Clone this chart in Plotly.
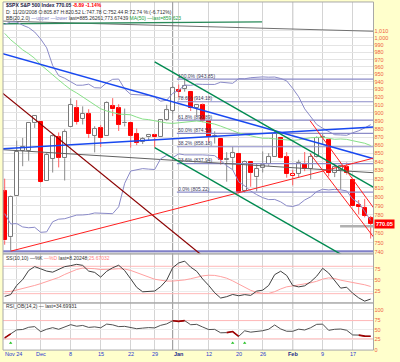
import plotly.graph_objects as go

# ---------------- data ----------------
dates = ["2008-11-20","2008-11-21","2008-11-24","2008-11-25","2008-11-26","2008-11-28",
         "2008-12-01","2008-12-02","2008-12-03","2008-12-04","2008-12-05","2008-12-08",
         "2008-12-09","2008-12-10","2008-12-11","2008-12-12","2008-12-15","2008-12-16",
         "2008-12-17","2008-12-18","2008-12-19","2008-12-22","2008-12-23","2008-12-24",
         "2008-12-26","2008-12-29","2008-12-30","2008-12-31","2009-01-02","2009-01-05",
         "2009-01-06","2009-01-07","2009-01-08","2009-01-09","2009-01-12","2009-01-13",
         "2009-01-14","2009-01-15","2009-01-16","2009-01-20","2009-01-21","2009-01-22",
         "2009-01-23","2009-01-26","2009-01-27","2009-01-28","2009-01-29","2009-01-30",
         "2009-02-02","2009-02-03","2009-02-04","2009-02-05","2009-02-06","2009-02-09",
         "2009-02-10","2009-02-11","2009-02-12","2009-02-13","2009-02-17","2009-02-18",
         "2009-02-19","2009-02-20"]
opens = [805.87,755.84,801.20,853.40,852.90,886.89,888.61,817.94,843.60,869.75,844.43,882.71,
         906.48,892.17,898.35,871.79,881.07,871.53,908.16,905.98,886.96,887.20,874.31,863.87,
         869.51,872.37,870.58,890.59,902.99,929.17,931.17,927.45,905.73,909.91,890.40,869.79,
         867.28,841.99,844.45,849.64,806.77,839.74,822.16,832.50,837.30,845.73,868.89,845.69,
         823.09,825.69,837.77,831.75,846.09,868.24,866.87,827.41,830.95,833.95,818.61,791.06,
         787.91,775.87]
highs = [820.52,801.20,865.60,868.94,887.68,896.25,888.61,850.54,873.12,875.60,879.42,918.57,
         916.26,908.27,904.63,883.24,884.63,914.66,918.85,911.02,905.47,887.37,880.44,869.79,
         873.74,873.70,891.12,910.32,934.73,936.63,943.85,927.45,910.00,911.93,890.40,877.02,
         867.28,851.59,858.13,849.64,841.72,839.74,838.61,852.53,850.45,877.86,868.89,851.66,
         830.78,842.60,851.85,850.55,870.75,875.01,868.05,838.22,835.19,839.43,818.61,796.17,
         797.58,778.69]
lows = [747.78,741.02,801.20,834.99,841.37,881.21,815.69,817.94,827.60,833.60,818.41,882.71,
        885.38,885.45,868.73,851.35,857.72,871.53,895.94,877.44,883.02,857.09,860.10,861.44,
        866.52,857.07,870.58,889.67,899.35,919.53,927.28,902.37,896.81,888.31,864.32,862.02,
        836.93,817.04,830.66,804.47,804.30,811.29,806.07,827.69,835.40,845.73,844.15,821.67,
        812.87,821.98,829.18,819.91,845.42,861.65,822.99,822.30,808.06,825.21,789.17,780.43,
        777.03,754.25]
closes = [752.44,800.03,851.81,857.39,887.68,896.24,816.21,848.81,870.74,845.22,876.07,909.70,
          888.67,899.24,873.59,879.73,868.57,913.18,904.42,885.28,887.88,871.63,863.16,868.15,
          872.80,869.42,890.64,903.25,931.80,927.45,934.70,906.65,909.73,890.35,870.26,871.79,
          842.62,843.74,850.12,805.22,840.24,827.50,831.95,836.57,845.71,874.09,845.14,825.88,
          825.44,838.51,832.23,845.85,868.60,869.89,827.16,833.74,835.19,826.84,789.17,788.42,
          778.94,770.05]
prev_close_first = 806.58

bb_upper = [1019.2,1022.8,1022.7,1018.0,1014.6,1008.3,998.5,986.2,961.9,948.3,944.9,940.8,
            935.7,935.7,937.1,932.4,932.1,938.9,943.5,943.8,930.8,923.8,923.4,923.2,
            922.3,920.2,914.9,916.2,925.1,928.9,935.9,935.5,937.2,936.8,936.9,936.7,
            939.7,939.1,938.2,944.4,944.2,945.6,946.5,946.7,946.3,946.5,944.6,941.4,
            931.5,920.6,905.1,895.5,885.5,880.7,877.2,872.8,872.5,872.1,875.2,877.6,
            881.1,885.26]
bb_lower = [781.2,769.9,770.3,766.7,765.8,766.3,760.9,761.4,772.3,775.1,775.6,777.6,
            779.6,779.7,780.3,781.9,781.7,781.2,781.1,788.7,815.2,829.4,831.0,832.2,
            831.6,831.1,843.8,847.9,845.1,849.6,848.4,848.5,848.9,848.4,848.0,847.5,
            841.8,835.5,830.9,816.8,812.2,806.4,802.3,798.9,796.7,796.9,794.2,789.8,
            789.0,791.0,796.3,799.8,805.7,808.4,807.6,808.3,807.7,806.5,797.3,793.2,
            783.6,773.67]
ma50 = [1006.4,997.4,990.5,983.4,978.0,971.8,963.1,955.9,949.5,942.7,936.1,930.0,
        925.6,920.3,914.6,909.9,905.2,902.4,900.5,898.5,898.1,897.6,894.7,892.2,
        891.5,889.9,888.9,887.3,886.8,887.4,887.9,888.5,889.8,888.8,887.6,885.9,
        883.4,880.9,877.8,874.9,873.6,871.5,869.8,868.5,868.4,867.6,867.1,866.6,
        865.9,866.6,868.1,869.1,869.4,869.7,868.4,867.2,867.6,867.1,865.5,864.4,
        862.4,859.62]

stoch_k = [14,18,38,50.8,70.8,79.3,74.4,69.5,67.1,73.4,79.2,81.3,84.3,82.0,69.5,66.6,
           56.3,69.0,76.8,82.3,70.6,52.5,33.9,24.1,24.7,25.7,35.3,49.7,76.8,87.3,91.3,78.1,
           69.1,52.1,38.1,22.0,10.4,13.4,18.2,15.4,17.9,16.2,25.6,27.6,38.0,61.7,69.2,59.9,
           37.9,34.9,37.2,46.1,58.3,75.6,65.2,48.0,32.1,34.1,20.9,10.8,3.6,8.2]
stoch_d = [24,25,28,31,35,38,42,46,50,55.5,62.1,68.4,73.0,76.1,76.0,74.7,
           72.9,72.9,73.8,74.7,73.9,71.0,66.0,60.2,55.7,51.6,49.5,47.6,47.6,48.1,50.1,52.7,
           56.2,59.0,60.4,60.0,57.5,53.9,48.0,40.8,33.5,27.3,22.9,20.5,20.5,24.4,30.3,35.0,
           36.9,38.9,40.8,43.8,47.1,51.9,54.6,53.2,49.5,46.9,45.2,42.8,39.5,35.7]
rsi = [32.2,38.5,44.5,45.1,48.5,49.5,41.7,45.5,47.9,45.4,48.9,52.5,50.1,51.3,48.3,49.1,
       47.7,53.4,52.2,49.5,49.9,47.6,46.3,47.2,48.0,47.5,51.5,53.7,58.5,57.5,58.7,52.4,
       53.0,48.9,45.0,45.3,40.0,40.3,42.0,34.5,43.1,41.0,42.0,43.2,45.5,52.0,45.9,42.4,
       42.3,45.6,44.3,47.8,53.0,53.3,43.8,45.4,45.8,43.9,36.7,36.5,34.9,34.7]
rsi_ob_ranges = [(0, 1), (28, 30), (37, 39), (59, 61)]
rsi_signal_idx = [1, 38, 40]
rsi_signal_level = 24.2

# trend / drawing lines (x in bar index, y in price)
blue_a = ([-0.5, 61.5], [978.5, 843.9])
blue_b = ([-0.5, 61.5], [855.7, 882.3])
maroon = ([-0.5, 35.0], [926.3, 726.0])
red_up = ([1.0, 61.5], [741.02, 844.6])
green_1 = ([25.0, 61.5], [966.8, 810.6])
green_2 = ([25.0, 61.5], [857.07, 718.6])
red_dn_1 = ([50.9, 61.5], [890.1, 787.4])
red_dn_2 = ([50.9, 61.5], [849.7, 755.7])
gray_dn = ([-0.5, 61.5], [854.7, 827.4])
gray_short = ([55.9, 61.5], [767.5, 767.5])
support = ([-1.0, 62.0], [741.02, 741.02])
top_gray = ([-0.5, 61.5], [1024.0, 1009.4])
top_green = ([-0.5, 42.9], [1020.0, 1022.8])

fib_pcts = ["100.0%", "78.6%", "61.8%", "50.0%", "38.2%", "23.6%", "0.0%"]
fib_levels = [943.85, 914.18, 890.89, 874.54, 858.18, 837.94, 805.22]
fib_start = 28.7
fib_end = 61.5

week_ticks = [2, 6, 11, 16, 21, 25, 29, 34, 39, 43, 48, 53, 58]
week_labels = ["Nov 24", "Dec", "8", "15", "22", "29", "Jan", "12", "20", "26", "Feb", "9", "17"]
month_lines = [28, 48]
price_ticks = list(range(740, 1030, 10))
stoch_ticks = [25, 50, 75]
stoch_bands = [20, 80]
rsi_tick_pos = [75.2, 59.5, 44.7, 30.0, 13.6]
rsi_tick_text = ["100", "75", "50", "25", "0"]
rsi_bands = [58.75, 30.75]

# ---------------- figure ----------------
W, H = 400, 362
def px_x(p): return p / W
def px_y(p): return 1 - p / H

XD = [px_x(3), px_x(373.5)]
Y1 = [px_y(256), px_y(2)]
Y2 = [px_y(305.5), px_y(256)]
Y3 = [px_y(353), px_y(305.5)]

fig = go.Figure()
n = len(closes)
xi = list(range(n))

RED = "#ff0000"
GRAY = "#7a7a7a"

groups = {}
wick_x = {"g": [], "r": []}
wick_y = {"g": [], "r": []}
for i in range(n):
    o, h, l, c = opens[i], highs[i], lows[i], closes[i]
    pc = prev_close_first if i == 0 else closes[i - 1]
    down_prev = c < pc
    hollow = c >= o
    key = ("h" if hollow else "f") + ("r" if down_prev else "g")
    groups.setdefault(key, {"x": [], "base": [], "y": []})
    lo_b, hi_b = min(o, c), max(o, c)
    if hi_b - lo_b < 0.6:
        hi_b = lo_b + 0.6
    groups[key]["x"].append(i)
    groups[key]["base"].append(lo_b)
    groups[key]["y"].append(hi_b - lo_b)
    wk = "r" if (down_prev or not hollow) else "g"
    wick_x[wk] += [i, i, None, i, i, None]
    wick_y[wk] += [h, max(o, c), None, min(o, c), l, None]

for wk, col in (("g", "#8a8a8a"), ("r", "#ff6060")):
    fig.add_trace(go.Scatter(x=wick_x[wk], y=wick_y[wk], mode="lines",
                             line=dict(color=col, width=1), hoverinfo="skip",
                             showlegend=False, xaxis="x", yaxis="y"))

styles = {"hg": ("#ffffff", GRAY), "hr": ("#ffffff", RED),
          "fr": (RED, RED), "fg": ("#404040", "#404040")}
for key, g in groups.items():
    fill, line = styles[key]
    fig.add_trace(go.Bar(x=g["x"], y=g["y"], base=g["base"], width=0.62,
                         marker=dict(color=fill, line=dict(color=line, width=1)),
                         showlegend=False, hoverinfo="skip", xaxis="x", yaxis="y"))

def add_line(pts, color, width, xa="x", ya="y"):
    fig.add_trace(go.Scatter(x=pts[0], y=pts[1], mode="lines",
                             line=dict(color=color, width=width),
                             hoverinfo="skip", showlegend=False, xaxis=xa, yaxis=ya))

fx, fy = [], []
for lv in fib_levels:
    fx += [fib_start, fib_end, None]
    fy += [lv, lv, None]
fig.add_trace(go.Scatter(x=fx, y=fy, mode="lines", line=dict(color="#8c8cc8", width=1.2),
                         hoverinfo="skip", showlegend=False, xaxis="x", yaxis="y"))
fig.add_trace(go.Scatter(x=[fib_start + 0.2] * len(fib_levels), y=fib_levels, mode="text",
                         text=[f"{p} ({v:.2f})" for p, v in zip(fib_pcts, fib_levels)],
                         textposition="top right",
                         textfont=dict(size=5, color="#404060", family="Liberation Sans"),
                         hoverinfo="skip", showlegend=False, xaxis="x", yaxis="y"))

add_line(support, "#8080c8", 2)
add_line(gray_dn, "#606060", 1)
add_line(gray_short, "#b0b0b0", 2.5)
add_line(top_gray, "#707070", 1)
add_line(top_green, "#2a8a5a", 1.4)

for series, col in ((bb_upper, "#8a8ac8"), (bb_lower, "#8a8ac8"), (ma50, "#88e088")):
    fig.add_trace(go.Scatter(x=xi, y=series, mode="lines", line=dict(color=col, width=1),
                             hoverinfo="skip", showlegend=False, xaxis="x", yaxis="y"))

add_line(blue_a, "#1848f0", 1.6)
add_line(blue_b, "#1848f0", 1.6)
add_line(maroon, "#8b0000", 1.2)
add_line(red_up, "#ff2020", 1)
add_line(green_1, "#008a50", 1.4)
add_line(green_2, "#008a50", 1.4)
add_line(red_dn_1, "#ff2020", 1)
add_line(red_dn_2, "#ff2020", 1)

# stochastics
for lv in stoch_bands:
    add_line(([-1, 62], [lv, lv]), "#ffb8b8", 1, "x2", "y2")
fig.add_trace(go.Scatter(x=xi, y=stoch_d, mode="lines", line=dict(color="#ffa0a0", width=1),
                         hoverinfo="skip", showlegend=False, xaxis="x2", yaxis="y2"))
fig.add_trace(go.Scatter(x=xi, y=stoch_k, mode="lines", line=dict(color="#404040", width=1),
                         hoverinfo="skip", showlegend=False, xaxis="x2", yaxis="y2"))

# RSI
for lv in rsi_bands:
    add_line(([-1, 62], [lv, lv]), "#ffb8b8", 1, "x3", "y3")
fig.add_trace(go.Scatter(x=xi, y=rsi, mode="lines", line=dict(color="#505050", width=1),
                         hoverinfo="skip", showlegend=False, xaxis="x3", yaxis="y3"))
ox, oy = [], []
for a, b in rsi_ob_ranges:
    ox += list(range(a, b + 1)) + [None]
    oy += rsi[a:b + 1] + [None]
fig.add_trace(go.Scatter(x=ox, y=oy, mode="lines", line=dict(color="#a00000", width=1.6),
                         hoverinfo="skip", showlegend=False, xaxis="x3", yaxis="y3"))
fig.add_trace(go.Scatter(x=rsi_signal_idx, y=[rsi_signal_level] * len(rsi_signal_idx),
                         mode="markers", marker=dict(symbol="triangle-up", size=3, color="#20c020"),
                         hoverinfo="skip", showlegend=False, xaxis="x3", yaxis="y3"))

# ---------------- layout ----------------
tickfont = dict(size=5.5, color="#f06040", family="Liberation Sans")
common_x = dict(domain=XD, range=[-0.28, 61.47], showgrid=True, gridcolor="#d4d4d4",
                gridwidth=1, tickvals=week_ticks, showticklabels=False, zeroline=False,
                ticks="", showline=False)
ptick_vals = price_ticks[:-1]
ptick_text = ["" if v == 770 else f"{v:,}" for v in ptick_vals]
fig.update_layout(
    width=W, height=H, margin=dict(l=0, r=0, t=0, b=0),
    paper_bgcolor="#ffffcc", plot_bgcolor="#ffffff", bargap=0, barmode="overlay",
    xaxis=dict(anchor="y", **common_x),
    xaxis2=dict(anchor="y2", matches="x", **common_x),
    xaxis3=dict(anchor="y3", matches="x", **common_x),
    yaxis=dict(domain=Y1, type="log", range=[2.86817, 3.02194], side="right",
               tickvals=ptick_vals, ticktext=ptick_text,
               tickfont=tickfont, showgrid=True, gridcolor="#e4e4e4", zeroline=False,
               ticks="", anchor="x"),
    yaxis2=dict(domain=Y2, range=[-0.4, 107.2], side="right", tickvals=stoch_ticks,
                tickfont=tickfont, showgrid=True, gridcolor="#ececec", zeroline=False,
                ticks="", anchor="x2"),
    yaxis3=dict(domain=Y3, range=[13.5, 85.8], side="right", tickvals=rsi_tick_pos,
                ticktext=rsi_tick_text,
                tickfont=tickfont, showgrid=True, gridcolor="#ececec", zeroline=False,
                ticks="", anchor="x3"),
    showlegend=False,
)

shapes = []
for yd in (Y1, Y2, Y3):
    shapes.append(dict(type="rect", xref="paper", yref="paper", x0=XD[0], x1=XD[1],
                       y0=yd[0], y1=yd[1], line=dict(color="#a8a8a8", width=1),
                       fillcolor="rgba(0,0,0,0)", layer="above"))
for m in month_lines:
    shapes.append(dict(type="line", xref="x", yref="paper", x0=m, x1=m, y0=Y3[0], y1=Y1[1],
                       line=dict(color="#909090", width=1), layer="below"))
fig.update_layout(shapes=shapes)

ann = []
F = "Liberation Sans"
def note(x, y, text, size=5, color="#303030"):
    ann.append(dict(xref="paper", yref="paper", x=px_x(x), y=px_y(y), xanchor="left",
                    yanchor="middle", showarrow=False, align="left", text=text,
                    font=dict(size=size, color=color, family=F)))
note(4, 5.5, "<b>$SPX S&P 500 Index</b> <b>770.05</b> <span style='color:#ff0000'><b>-8.89</b> <b>-1.14%</b></span>",
     5, "#202040")
note(4, 12, "D: 11/20/2008 O:805.87 H:820.52 L:747.78 C:752.44 R:72.74 %:(-6.712%)")
note(4, 18, "BB(20,2.0) <span style='color:#8080c0'>\u2014upper \u2014lower</span> last=885.26261;773.67439 "
            "<span style='color:#20a040'>MA(50) \u2014last=859.623</span>")
note(4, 260, "SS(10,10) \u2014%K <span style='color:#ff8080'>\u2014%D</span> last=8.20248;"
             "<span style='color:#ff8080'>25.67032</span>")
note(4, 309, "RSI_OB(14,2) \u2014 last=34.69931")
for t, lab in zip(week_ticks, week_labels):
    bold = lab in ("Jan", "Feb")
    if lab == "Nov 24":
        ann.append(dict(xref="paper", yref="paper", x=px_x(2.5), y=px_y(357),
                        xanchor="left", yanchor="middle", showarrow=False, text=lab,
                        font=dict(size=5.5, color="#2a3ad0", family=F)))
        continue
    ann.append(dict(xref="x3", yref="paper", x=t, y=px_y(357),
                    xanchor="center", yanchor="middle", showarrow=False,
                    text=f"<b>{lab}</b>" if bold else lab,
                    font=dict(size=5.5, color="#1a2a8a" if bold else "#2a3ad0", family=F)))
ann.append(dict(xref="paper", yref="y", x=px_x(374), y=2.88652, xanchor="left",
                yanchor="middle", showarrow=False, text="<b>770.05</b>",
                bgcolor="#ff0000", borderpad=1,
                font=dict(size=5.5, color="#ffffff", family=F)))
fig.update_layout(annotations=ann)

fig.write_html("out.html", config={"displayModeBar": False},
               post_script="document.body.style.margin='0';document.body.style.overflow='hidden';")
